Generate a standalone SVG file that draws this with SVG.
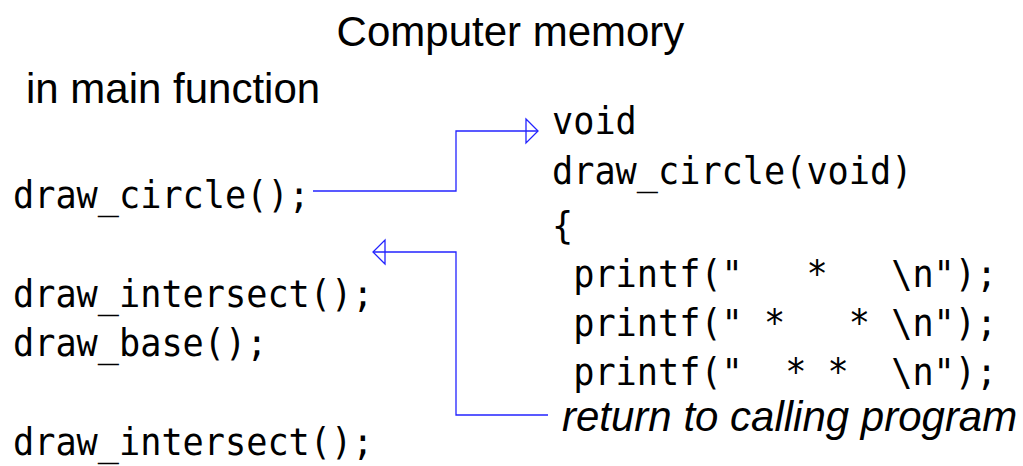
<svg xmlns="http://www.w3.org/2000/svg" width="1023" height="466" viewBox="0 0 1023 466">
  <style>
    .title { font-family: "Liberation Sans", Arial, sans-serif; font-size: 42px; fill: #000; }
    .code { font-family: "DejaVu Sans Mono", "Liberation Mono", monospace; font-size: 37px; fill: #000; white-space: pre; }
    .note { font-family: "Liberation Sans", Arial, sans-serif; font-size: 42px; font-style: italic; fill: #000; }
    .conn { fill: none; stroke: #2323ff; stroke-width: 1.3; }
  </style>
  <defs>
    <marker id="openTri" markerUnits="userSpaceOnUse" markerWidth="14" markerHeight="26" refX="12" refY="12" orient="auto" overflow="visible">
      <path d="M0,0 L12,12 L0,24 Z" fill="none" stroke="#2323ff" stroke-width="1.3"/>
    </marker>
  </defs>

  <g id="title">
    <text class="title" x="510.5" y="46" text-anchor="middle">Computer memory</text>
  </g>
  <g id="main-label">
    <text class="title" x="26" y="103">in main function</text>
  </g>

  <g id="main-code">
    <text class="code" x="13" y="208" textLength="296.8" lengthAdjust="spacingAndGlyphs">draw_circle();</text>
    <text class="code" x="13" y="307" textLength="360.4" lengthAdjust="spacingAndGlyphs">draw_intersect();</text>
    <text class="code" x="13" y="356" textLength="254.4" lengthAdjust="spacingAndGlyphs">draw_base();</text>
    <text class="code" x="13" y="455" textLength="360.4" lengthAdjust="spacingAndGlyphs">draw_intersect();</text>
  </g>

  <g id="function-code">
    <text class="code" x="552" y="134" textLength="84.8" lengthAdjust="spacingAndGlyphs">void</text>
    <text class="code" x="552" y="184" textLength="360.4" lengthAdjust="spacingAndGlyphs">draw_circle(void)</text>
    <text class="code" x="552" y="239" textLength="21.2" lengthAdjust="spacingAndGlyphs">{</text>
    <text class="code" x="552" y="287" textLength="445.2" lengthAdjust="spacingAndGlyphs" xml:space="preserve"> printf("   *   \n");</text>
    <text class="code" x="552" y="336" textLength="445.2" lengthAdjust="spacingAndGlyphs" xml:space="preserve"> printf(" *   * \n");</text>
    <text class="code" x="552" y="385" textLength="445.2" lengthAdjust="spacingAndGlyphs" xml:space="preserve"> printf("  * *  \n");</text>
  </g>

  <g id="return-label">
    <text class="note" x="562" y="431">return to calling program</text>
  </g>

  <g id="connectors">
    <path class="conn" d="M313,191 H456 V131 H538" marker-end="url(#openTri)"/>
    <path class="conn" d="M548,415 H456 V252 H373" marker-end="url(#openTri)"/>
  </g>
</svg>
